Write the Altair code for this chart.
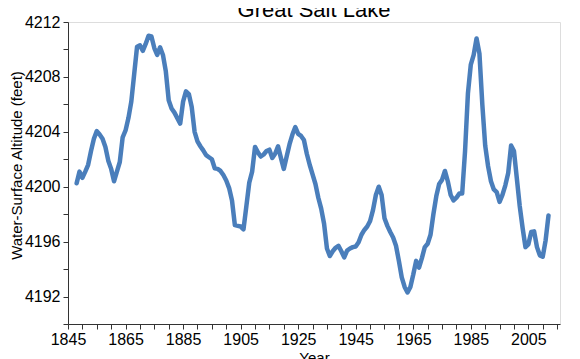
import altair as alt
import pandas as pd

title_text = ["Great Salt Lake"]
years = list(range(1848, 2013))
levels = [
    4200.25, 4201.1, 4200.65, 4201.1, 4201.6, 4202.6, 4203.5, 4204.05, 4203.8, 4203.5,  # 1848-1857
    4202.9, 4201.9, 4201.3, 4200.4, 4201.1, 4201.8, 4203.6, 4204.1, 4205.0, 4206.2,    # 1858-1867
    4208.2, 4210.2, 4210.3, 4209.9, 4210.4, 4211.0, 4210.95, 4210.1, 4209.6, 4210.15,  # 1868-1877
    4209.6, 4208.4, 4206.3, 4205.7, 4205.4, 4205.0, 4204.6, 4206.2, 4206.95, 4206.75,  # 1878-1887
    4205.8, 4204.0, 4203.3, 4202.95, 4202.65, 4202.3, 4202.15, 4202.0, 4201.35, 4201.3,  # 1888-1897
    4201.15, 4200.85, 4200.45, 4199.9, 4199.0, 4197.2, 4197.15, 4197.1, 4196.9, 4198.6,  # 1898-1907
    4200.3, 4201.1, 4202.9, 4202.5, 4202.2, 4202.35, 4202.6, 4202.7, 4202.1, 4202.4,   # 1908-1917
    4202.95, 4202.1, 4201.3, 4202.2, 4203.1, 4203.8, 4204.35, 4203.85, 4203.7, 4203.4,  # 1918-1927
    4202.4, 4201.6, 4200.9, 4200.2, 4199.2, 4198.4, 4197.3, 4195.5, 4194.95, 4195.3,   # 1928-1937
    4195.55, 4195.7, 4195.3, 4194.85, 4195.35, 4195.5, 4195.6, 4195.65, 4195.95, 4196.5,  # 1938-1947
    4196.85, 4197.1, 4197.5, 4198.3, 4199.4, 4200.0, 4199.4, 4197.7, 4197.15, 4196.7,  # 1948-1957
    4196.3, 4195.7, 4194.6, 4193.4, 4192.7, 4192.3, 4192.7, 4193.6, 4194.6, 4194.1,    # 1958-1967
    4194.8, 4195.6, 4195.85, 4196.5, 4198.0, 4199.3, 4200.2, 4200.5, 4201.15, 4200.4,  # 1968-1977
    4199.4, 4199.0, 4199.2, 4199.5, 4199.5, 4202.6, 4206.8, 4208.9, 4209.6, 4210.8,    # 1978-1987
    4209.7, 4206.0, 4203.0, 4201.5, 4200.4, 4199.8, 4199.6, 4198.9, 4199.4, 4200.1,    # 1988-1997
    4201.0, 4203.0, 4202.6, 4200.6, 4198.6, 4197.0, 4195.6, 4195.8, 4196.7, 4196.75,   # 1998-2007
    4195.6, 4195.0, 4194.9, 4196.1, 4197.9,                                             # 2008-2012
]

x_ticks = list(range(1845, 2016, 5))
y_ticks = list(range(4190, 4213, 2))

df = pd.DataFrame({"Year": years, "Level": levels})
tdf = pd.DataFrame({"t": title_text})

FONT = "Liberation Sans"
W, H = 492, 302

line = alt.Chart(df).mark_line(
    color="#4a7ebb", strokeWidth=4.5, strokeJoin="round", strokeCap="round"
).encode(
    x=alt.X("Year:Q",
            scale=alt.Scale(domain=[1845, 2016], nice=False, zero=False),
            axis=alt.Axis(values=x_ticks, format="d",
                          labelExpr="(datum.value - 1845) % 20 == 0 ? datum.label : ''",
                          labelFlush=False, labelOverlap=False, labelBound=False,
                          grid=False, tickSize=5, labelPadding=2,
                          labelFontSize=16, labelFont=FONT, labelColor="black",
                          domainColor="#333", tickColor="#333",
                          title="Year", titleFont=FONT, titleFontSize=15,
                          titleFontWeight="normal", titleColor="black",
                          titleBaseline="top", titleY=26)),
    y=alt.Y("Level:Q",
            scale=alt.Scale(domain=[4190, 4212], nice=False, zero=False),
            axis=alt.Axis(values=y_ticks, format="d",
                          labelExpr="datum.value % 4 == 0 && datum.value != 4190 ? datum.label : ''",
                          labelOverlap=False, labelBound=False,
                          grid=False, tickSize=5, labelPadding=3,
                          labelFontSize=16, labelFont=FONT, labelColor="black",
                          domainColor="#333", tickColor="#333",
                          title="Water-Surface Altitude (feet)", titleFont=FONT,
                          titleFontSize=15, titleFontWeight="normal", titleColor="black",
                          titleAngle=-90, titleAlign="center", titleBaseline="middle",
                          titleX=-52, titleY=143)),
)

title = alt.Chart(tdf).mark_text(
    font=FONT, fontSize=22, color="black", align="center", baseline="alphabetic"
).encode(
    x=alt.value(W / 2),
    y=alt.value(-5),
    text="t:N",
)

chart = alt.layer(line, title).properties(
    width=W,
    height=H,
    autosize=alt.AutoSizeParams(type="none"),
    padding={"left": 60, "top": 14, "right": 12, "bottom": 45},
).configure_view(
    stroke="#333", strokeWidth=1
).configure(background="white")

chart.save("out.html", embed_options={"renderer": "svg", "actions": False})
